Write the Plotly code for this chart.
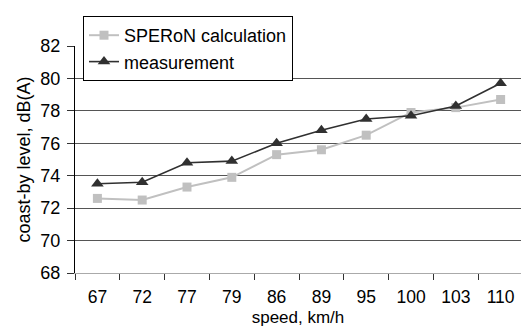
import plotly.graph_objects as go

speeds = ["67", "72", "77", "79", "86", "89", "95", "100", "103", "110"]
speron = [72.6, 72.5, 73.3, 73.9, 75.3, 75.6, 76.5, 77.9, 78.2, 78.7]
measurement = [73.5, 73.6, 74.8, 74.9, 76.0, 76.8, 77.5, 77.7, 78.3, 79.7]
y_ticks = [68, 70, 72, 74, 76, 78, 80, 82]

FONT = "Liberation Sans, Arial, sans-serif"
FS = 18

fig = go.Figure()
fig.add_trace(go.Scatter(
    x=speeds, y=speron, mode="lines+markers", name="SPERoN calculation",
    line=dict(color="#c0c0c0", width=2),
    marker=dict(symbol="square", size=9, color="#c0c0c0"),
))
fig.add_trace(go.Scatter(
    x=speeds, y=measurement, mode="lines+markers", name="measurement",
    line=dict(color="#303030", width=1.6),
    marker=dict(symbol="triangle-up", size=11, color="#303030"),
))

fig.update_layout(
    width=521, height=327,
    margin=dict(l=75, r=0, t=46, b=54),
    paper_bgcolor="white", plot_bgcolor="white",
    font=dict(family=FONT, size=FS, color="black"),
    showlegend=True,
    legend=dict(
        x=8 / 446, y=1 + 30 / 227, xanchor="left", yanchor="top",
        bgcolor="white", bordercolor="black", borderwidth=1,
        font=dict(family=FONT, size=FS, color="black"),
        itemwidth=30, tracegroupgap=0,
    ),
    xaxis=dict(
        type="category", range=[-0.5, 9.455],
        tickson="boundaries", ticks="outside", ticklen=6, tickcolor="#333",
        showgrid=False, showline=True, linecolor="#aaaaaa", linewidth=1,
        ticklabelstandoff=8,
        title=dict(text="speed, km/h", standoff=6, font=dict(size=17)),
        tickfont=dict(size=17.5),
    ),
    yaxis=dict(
        range=[68, 82], tickvals=y_ticks,
        ticks="outside", ticklen=7, tickcolor="#333",
        showgrid=True, gridcolor="#555555", gridwidth=1,
        showline=True, linecolor="black", linewidth=1,
        zeroline=False, ticklabelstandoff=3,
        title=dict(text="coast-by level, dB(A)", standoff=5, font=dict(size=18)),
        tickfont=dict(size=FS),
    ),
)

fig.write_html("out.html")
